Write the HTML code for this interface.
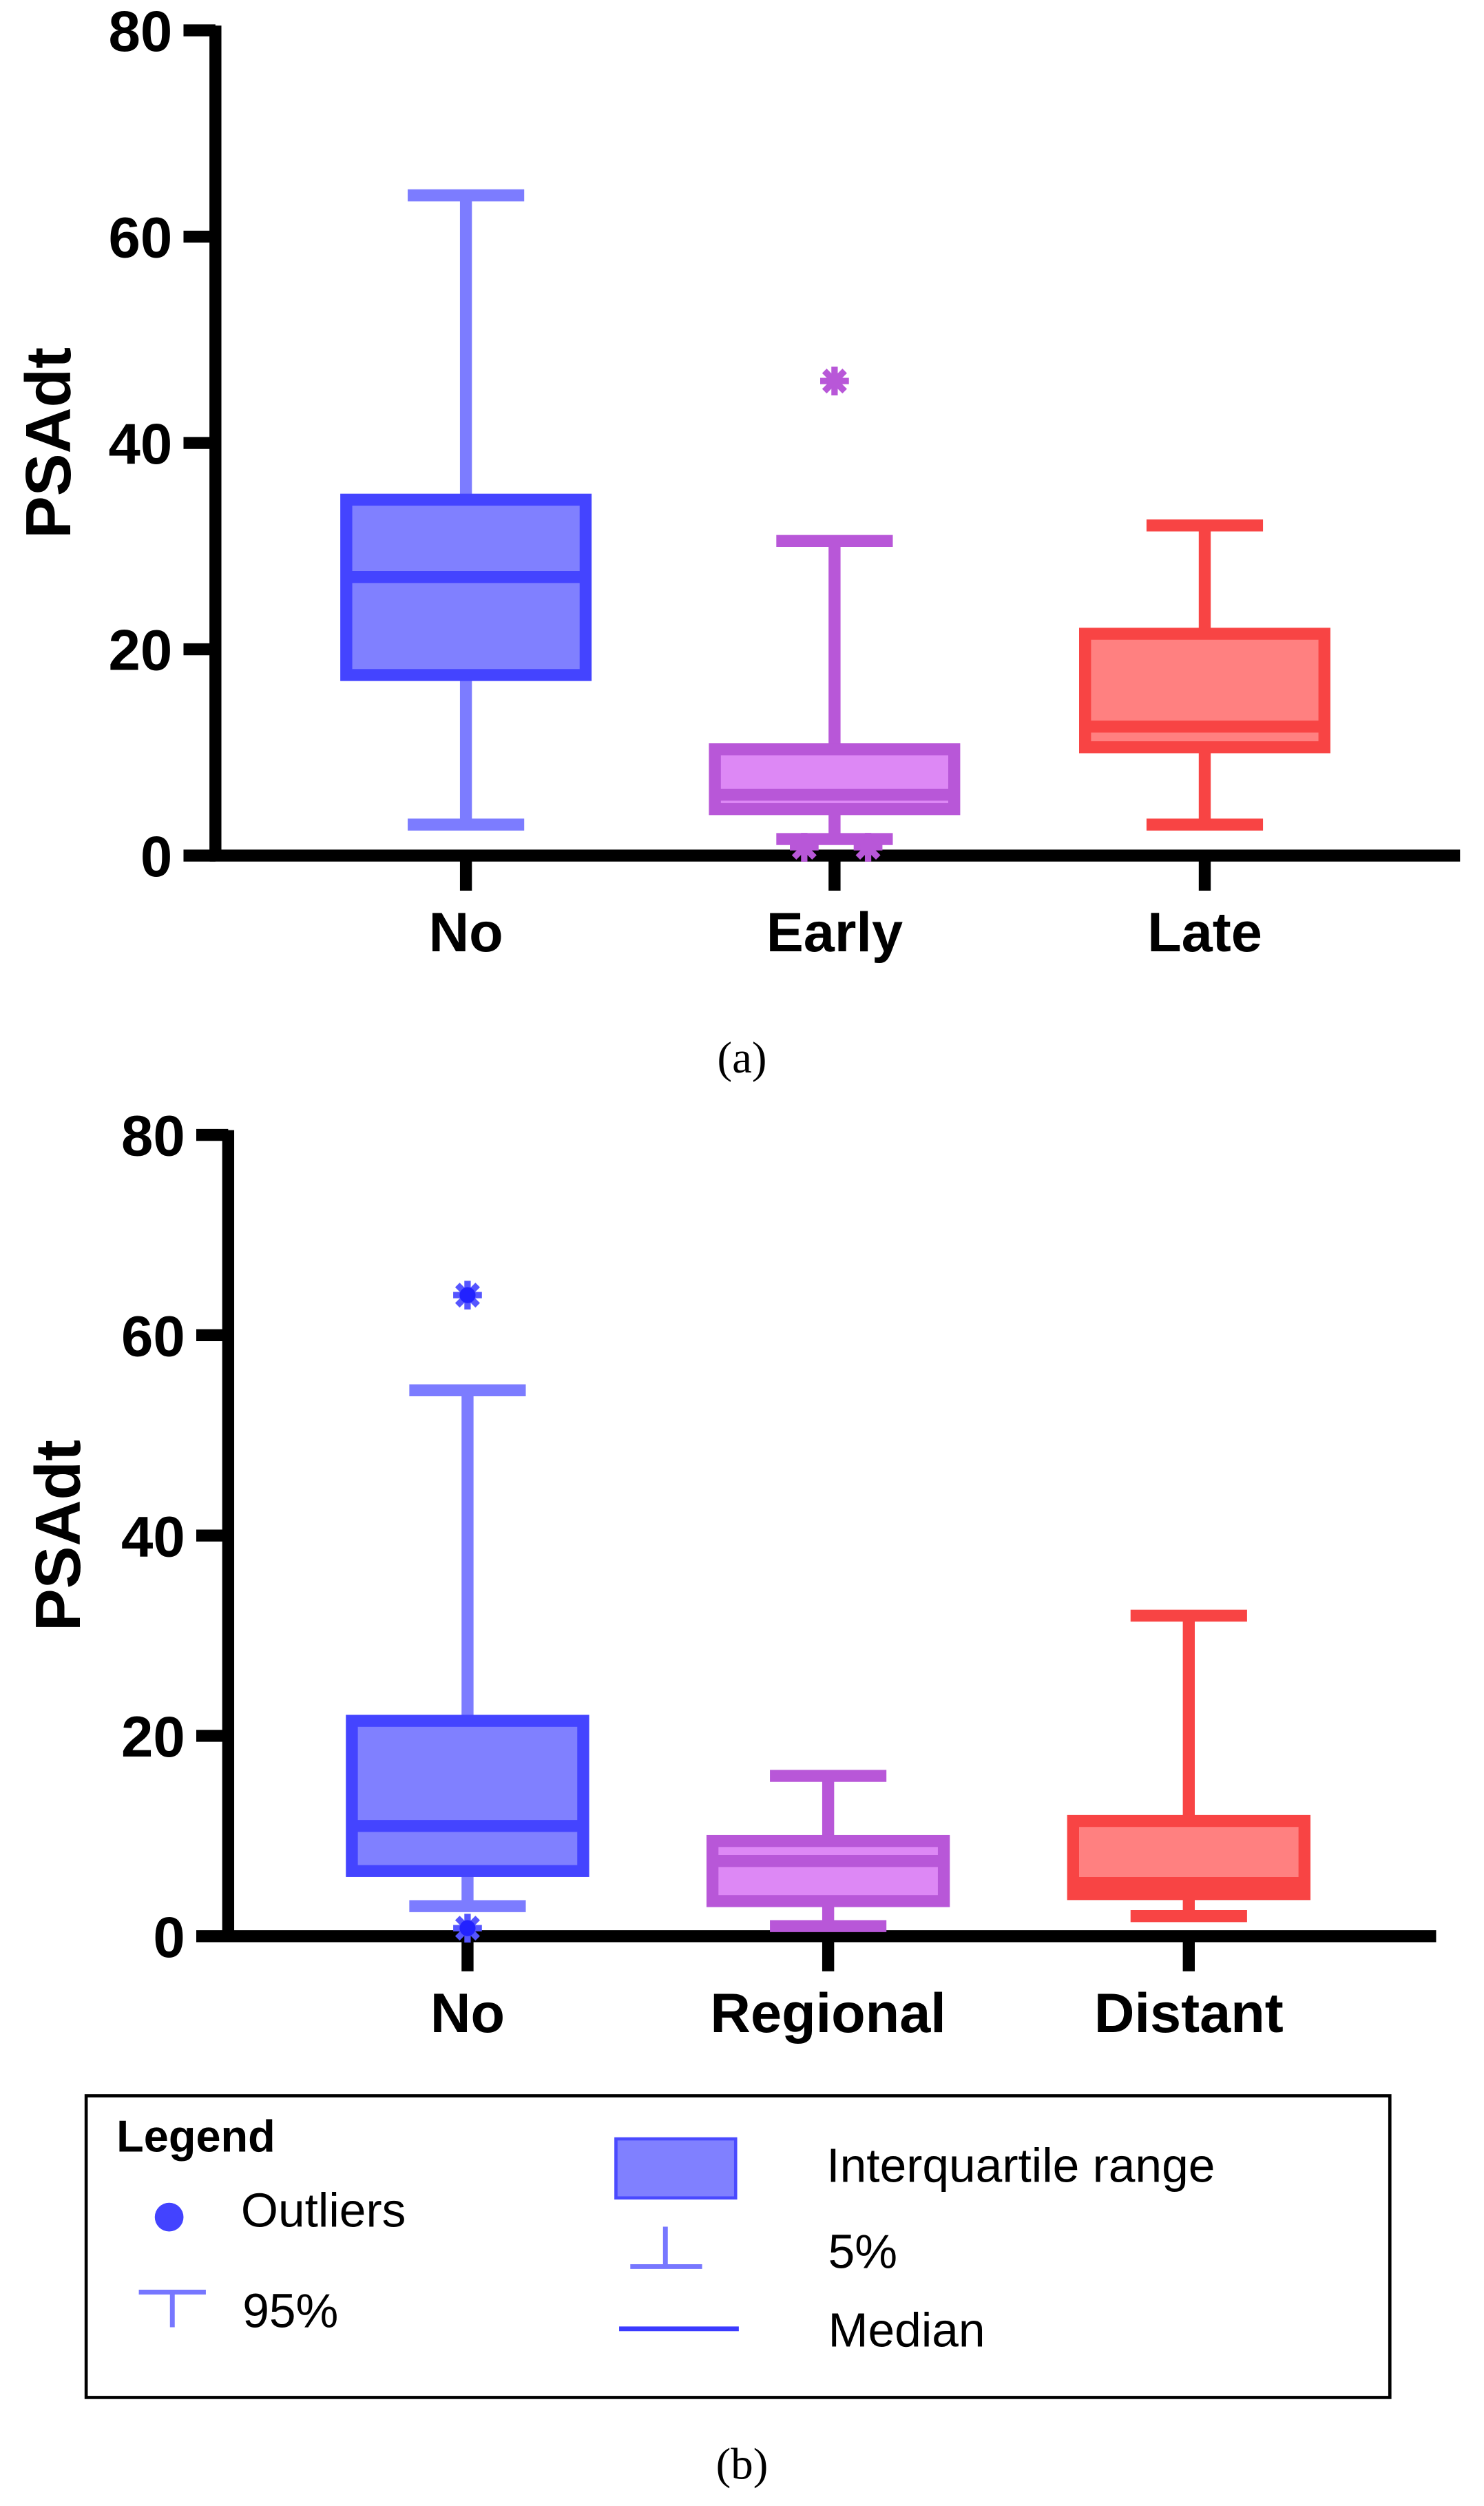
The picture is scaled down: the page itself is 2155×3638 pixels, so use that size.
<!DOCTYPE html>
<html><head><meta charset="utf-8"><style>
html,body{margin:0;padding:0;background:#fff;width:2155px;height:3638px;overflow:hidden}
svg{display:block}
text{font-family:"Liberation Sans",Arial,sans-serif}
</style></head><body>
<svg id="fig" width="2155" height="3638" viewBox="0 0 930 1570" preserveAspectRatio="none" xmlns="http://www.w3.org/2000/svg">
<g id="chartA"></g>
<g id="chartB"></g>
<text x="465" y="672" text-anchor="middle" font-size="28" style="font-family:'Liberation Serif',serif">(a)</text>
<text x="465" y="1553" text-anchor="middle" font-size="28" style="font-family:'Liberation Serif',serif">(b)</text>
<g>
<rect x="54" y="1313" width="817" height="189" fill="none" stroke="#000" stroke-width="2"/>
<text x="73" y="1348" font-size="28" font-weight="bold">Legend</text>
<circle cx="106" cy="1389" r="9" fill="#2222ff" opacity="0.85"/>
<text x="151" y="1395" font-size="30">Outliers</text>
<line x1="87" y1="1436" x2="129" y2="1436" stroke="#7777ff" stroke-width="3"/>
<line x1="108" y1="1436" x2="108" y2="1458" stroke="#7777ff" stroke-width="3"/>
<text x="152" y="1458" font-size="30">95%</text>
<rect x="386" y="1340" width="75" height="37" fill="#8080ff" stroke="#4a4aff" stroke-width="2"/>
<text x="518" y="1367" font-size="30">Interquartile range</text>
<line x1="417" y1="1395" x2="417" y2="1420" stroke="#7777ff" stroke-width="3"/>
<line x1="395" y1="1420" x2="440" y2="1420" stroke="#7777ff" stroke-width="3"/>
<text x="519" y="1421" font-size="30">5%</text>
<line x1="388" y1="1459" x2="463" y2="1459" stroke="#3a3aff" stroke-width="3"/>
<text x="519" y="1470" font-size="30">Median</text>
</g>
</svg>
<script>
const catsA = ["No","Early","Late"];
const q1A = [17.5, 4.5, 10.5];
const q3A = [34.5, 10.3, 21.5];
const medA = [27, 5.9, 12.5];
const loA = [3, 1.6, 3];
const hiA = [64, 30.5, 32];
const outCatA = [1, 1, 1];
const outValA = [46, 0.8, 0.8];
const outOffA = [0, -19, 21];

const catsB = ["No","Regional","Distant"];
const q1B = [6.5, 3.5, 4.2];
const q3B = [21.5, 9.5, 11.5];
const medB = [11, 7.5, 5.3];
const loB = [3, 1, 2];
const hiB = [54.5, 16, 32];
const outCatB = [0, 0];
const outValB = [64, 0.8];
const outOffB = [0, 0];

const yTicks = [0,20,40,60,80];
const palette = [
  {fill:"#8080ff", stroke:"#4444ff", whisk:"#7c7cff"},
  {fill:"#dd88f5", stroke:"#b857d8", whisk:"#b857d8"},
  {fill:"#ff8080", stroke:"#f84444", whisk:"#f84444"}
];
const NS = "http://www.w3.org/2000/svg";
function mk(parent, tag, attrs){
  const e = document.createElementNS(NS, tag);
  for (const k in attrs) e.setAttribute(k, attrs[k]);
  parent.appendChild(e);
  return e;
}
function drawChart(g, cfg, cats, q1, q3, med, lo, hi, oc, ov, oo){
  const y = v => cfg.y0 - (v/80)*(cfg.y0 - cfg.y80);
  const x = i => cfg.xc[i];
  const bw = cfg.bw, cw = cfg.cw, sw = 7.5;
  let e = mk(g,"line",{x1:cfg.ax,y1:cfg.y80-3,x2:cfg.ax,y2:cfg.y0+3.5,stroke:"#000","stroke-width":7.5});
  
  
  e = mk(g,"line",{x1:cfg.ax-3.5,y1:cfg.y0,x2:cfg.xend,y2:cfg.y0,stroke:"#000","stroke-width":7.5});
  
  
  yTicks.forEach(t=>{
    const l = mk(g,"line",{x1:cfg.ax-20,y1:y(t),x2:cfg.ax,y2:y(t),stroke:"#000","stroke-width":7.5});
    
    
    const tx = mk(g,"text",{x:cfg.ax-27,y:y(t)+13,"text-anchor":"end","font-size":36,"font-weight":"bold"});
    tx.textContent = t;
    
    
  });
  const yt = mk(g,"text",{x:0,y:0,"font-size":40,"font-weight":"bold","text-anchor":"middle",transform:`translate(${cfg.tx},${(cfg.y0+cfg.y80)/2}) rotate(-90)`});
  yt.textContent = "PSAdt";
  
  
  cats.forEach((c,i)=>{
    const p = palette[i];
    const tk = mk(g,"line",{x1:x(i),y1:cfg.y0,x2:x(i),y2:cfg.y0+22,stroke:"#000","stroke-width":7.5});
    
    
    const lb = mk(g,"text",{x:x(i),y:cfg.y0+60,"text-anchor":"middle","font-size":35,"font-weight":"bold"});
    lb.textContent = c;
    
    
    const w1 = mk(g,"line",{x1:x(i),y1:y(hi[i]),x2:x(i),y2:y(q3[i]),stroke:p.whisk,"stroke-width":sw});
    
    
    const w2 = mk(g,"line",{x1:x(i),y1:y(q1[i]),x2:x(i),y2:y(lo[i]),stroke:p.whisk,"stroke-width":sw});
    
    
    const c1 = mk(g,"line",{x1:x(i)-cw/2,y1:y(hi[i]),x2:x(i)+cw/2,y2:y(hi[i]),stroke:p.whisk,"stroke-width":sw});
    
    
    const c2 = mk(g,"line",{x1:x(i)-cw/2,y1:y(lo[i]),x2:x(i)+cw/2,y2:y(lo[i]),stroke:p.whisk,"stroke-width":sw});
    
    
    const b = mk(g,"rect",{x:x(i)-bw/2,y:y(q3[i]),width:bw,height:y(q1[i])-y(q3[i]),fill:p.fill,stroke:p.stroke,"stroke-width":sw});
    
    
    const m = mk(g,"line",{x1:x(i)-bw/2,y1:y(med[i]),x2:x(i)+bw/2,y2:y(med[i]),stroke:p.stroke,"stroke-width":sw});
    
    
  });
  oc.forEach((ci,k)=>{
    const p = palette[ci];
    const cx = x(ci)+oo[k], cy = y(ov[k]);
    const s = mk(g,"g",{});
    
    
    for (let a=0;a<4;a++){
      const ang = a*Math.PI/4;
      mk(s,"line",{x1:cx-9*Math.cos(ang),y1:cy-9*Math.sin(ang),x2:cx+9*Math.cos(ang),y2:cy+9*Math.sin(ang),stroke:ci===0?"#5555ff":p.stroke,"stroke-width":4});
    }
    mk(s,"circle",{cx:cx,cy:cy,r:5,fill:ci===0?"#2222ff":p.stroke});
  });
}
drawChart(document.getElementById("chartA"),
  {ax:135,y0:536,y80:19,xend:915,xc:[292,523,755],bw:150,cw:73,tx:44},
  catsA,q1A,q3A,medA,loA,hiA,outCatA,outValA,outOffA);
drawChart(document.getElementById("chartB"),
  {ax:143,y0:1213,y80:711,xend:900,xc:[293,519,745],bw:145,cw:73,tx:50},
  catsB,q1B,q3B,medB,loB,hiB,outCatB,outValB,outOffB);
</script>
</body></html>
